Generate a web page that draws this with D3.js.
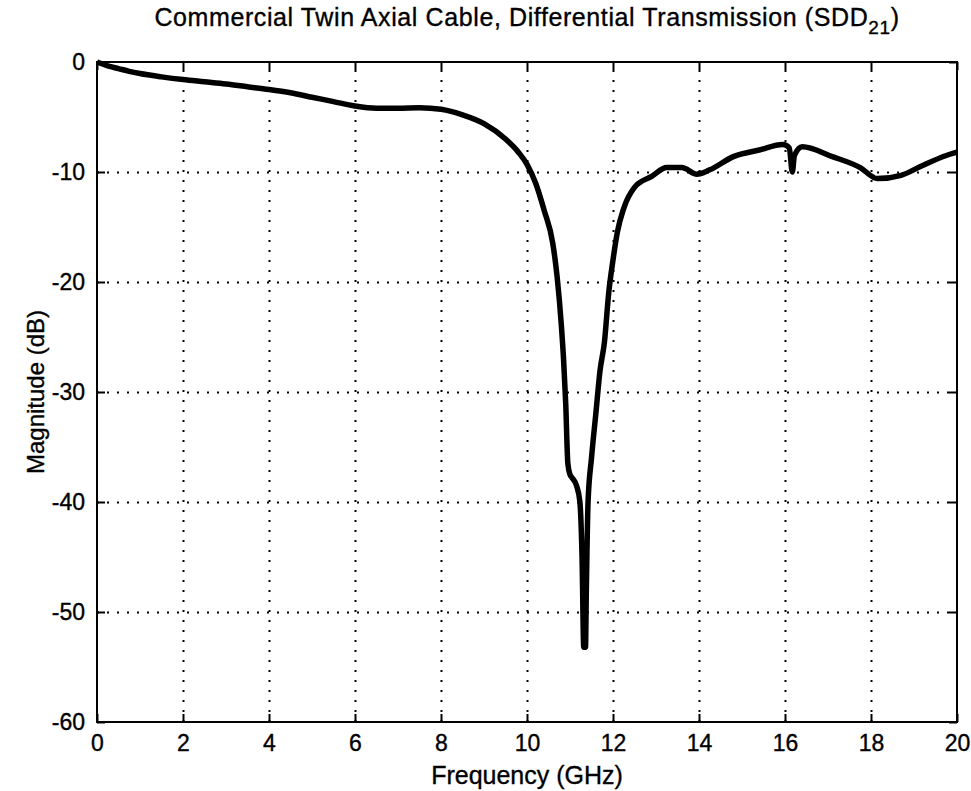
<!DOCTYPE html>
<html>
<head>
<meta charset="utf-8">
<script src="https://d3js.org/d3.v7.min.js"></script>
<style>
    body { margin: 0; background: #fff; }
    text { font-family: "Liberation Sans", Arial, sans-serif; fill: #000; stroke: #000; stroke-width: 0.35px; }
    .grid line { stroke: #000; stroke-width: 2; stroke-dasharray: 2,8; }
    .grid path { display: none; }
    .axis path { display: none; }
    .axis line { stroke: #000; stroke-width: 2; }
</style>
</head>
<body>
<div id="chart"></div>
<script>
// frequency (GHz) and magnitude (dB)
var freq = [0, 0.25, 0.5, 0.75, 1, 1.5, 2, 2.5, 3, 3.5, 4, 4.5, 5, 5.5, 6, 6.5, 7, 7.5, 8,
    8.5, 9, 9.5, 9.8, 10, 10.2, 10.4, 10.6, 10.7, 10.8, 10.85, 10.9, 10.95, 11.0, 11.05,
    11.15, 11.23, 11.28, 11.32, 11.36, 11.38, 11.42, 11.5, 11.6, 11.7, 11.8, 11.9, 12.0,
    12.1, 12.25, 12.5, 12.9, 13.25, 13.6, 13.95, 14.25, 14.8, 15.4, 15.95, 16.1, 16.17,
    16.22, 16.4, 17.1, 17.75, 18.15, 18.7, 19.15, 19.75, 20];
var magnitude = [0, -0.35, -0.6, -0.85, -1.05, -1.35, -1.6, -1.8, -2.0, -2.25, -2.5, -2.8, -3.2, -3.6, -4.0, -4.2, -4.2, -4.15, -4.3,
    -4.8, -5.6, -7.0, -8.2, -9.3, -11, -13.5, -16.5, -19.5, -24, -27, -31, -36.5, -37.5, -37.8,
    -38.5, -40, -45, -53.2, -53.2, -48, -40, -36, -32, -28, -25.5, -21, -18,
    -15.5, -13.3, -11.4, -10.4, -9.6, -9.6, -10.2, -9.8, -8.6, -8.0, -7.5, -7.8, -10.0,
    -8.5, -7.7, -8.6, -9.6, -10.6, -10.3, -9.5, -8.5, -8.2];
var xTicks = [0, 2, 4, 6, 8, 10, 12, 14, 16, 18, 20];
var yTicks = [0, -10, -20, -30, -40, -50, -60];

var margin = {top: 62, right: 14, bottom: 69, left: 97};
var width = 971 - margin.left - margin.right;
var height = 791 - margin.top - margin.bottom;

var svg = d3.select("#chart")
    .append("svg")
    .attr("width", 971)
    .attr("height", 791);

var chart = svg.append("g")
    .attr("transform", "translate(" + margin.left + "," + margin.top + ")");

var x = d3.scaleLinear().domain([0, 20]).range([0, width]);
var y = d3.scaleLinear().domain([-60, 0]).range([height, 0]);

// plain hyphen for negatives, like the original
var fmt = function(d) { return String(d); };

// dotted grid
chart.append("g")
    .attr("class", "grid")
    .attr("transform", "translate(0," + height + ")")
    .call(d3.axisBottom(x).tickValues(xTicks.slice(1, -1)).tickSize(-height).tickFormat(""));

chart.append("g")
    .attr("class", "grid")
    .call(d3.axisLeft(y).tickValues(yTicks.slice(1, -1)).tickSize(-width).tickFormat(""));

// inward ticks on all four sides
chart.append("g")
    .attr("class", "axis")
    .attr("transform", "translate(0," + height + ")")
    .call(d3.axisBottom(x).tickValues(xTicks).tickSize(-8).tickPadding(13).tickFormat(fmt))
    .selectAll("text")
    .attr("font-size", "23px")
    .attr("dy", "0.71em");

chart.append("g")
    .attr("class", "axis")
    .call(d3.axisTop(x).tickValues(xTicks).tickSize(-8).tickFormat(""));

chart.append("g")
    .attr("class", "axis")
    .call(d3.axisLeft(y).tickValues(yTicks).tickSize(-8).tickPadding(12).tickFormat(fmt))
    .selectAll("text")
    .attr("font-size", "23px");

chart.append("g")
    .attr("class", "axis")
    .attr("transform", "translate(" + width + ",0)")
    .call(d3.axisRight(y).tickValues(yTicks).tickSize(-8).tickFormat(""));

// frame
chart.append("rect")
    .attr("width", width)
    .attr("height", height)
    .attr("fill", "none")
    .attr("stroke", "#000")
    .attr("stroke-width", 2);

// the measured curve
var line = d3.line()
    .x(function(d, i) { return x(freq[i]); })
    .y(function(d) { return y(d); })
    .curve(d3.curveMonotoneX);

chart.append("path")
    .datum(magnitude)
    .attr("fill", "none")
    .attr("stroke", "#000")
    .attr("stroke-width", 5.5)
    .attr("stroke-linejoin", "round")
    .attr("d", line);

// titles
var title = svg.append("text")
    .attr("x", margin.left + width / 2)
    .attr("y", 26)
    .attr("text-anchor", "middle")
    .attr("letter-spacing", "0.6px")
    .attr("font-size", "25px");
title.append("tspan").text("Commercial Twin Axial Cable, Differential Transmission (SDD");
title.append("tspan").attr("dy", 8).attr("font-size", "19px").text("21");
title.append("tspan").attr("dy", -8).text(")");

svg.append("text")
    .attr("x", margin.left + width / 2)
    .attr("y", 784)
    .attr("text-anchor", "middle")
    .attr("font-size", "25px")
    .text("Frequency (GHz)");

svg.append("text")
    .attr("transform", "translate(44," + (margin.top + height / 2) + ") rotate(-90)")
    .attr("text-anchor", "middle")
    .attr("font-size", "24px")
    .text("Magnitude (dB)");
</script>
</body>
</html>
